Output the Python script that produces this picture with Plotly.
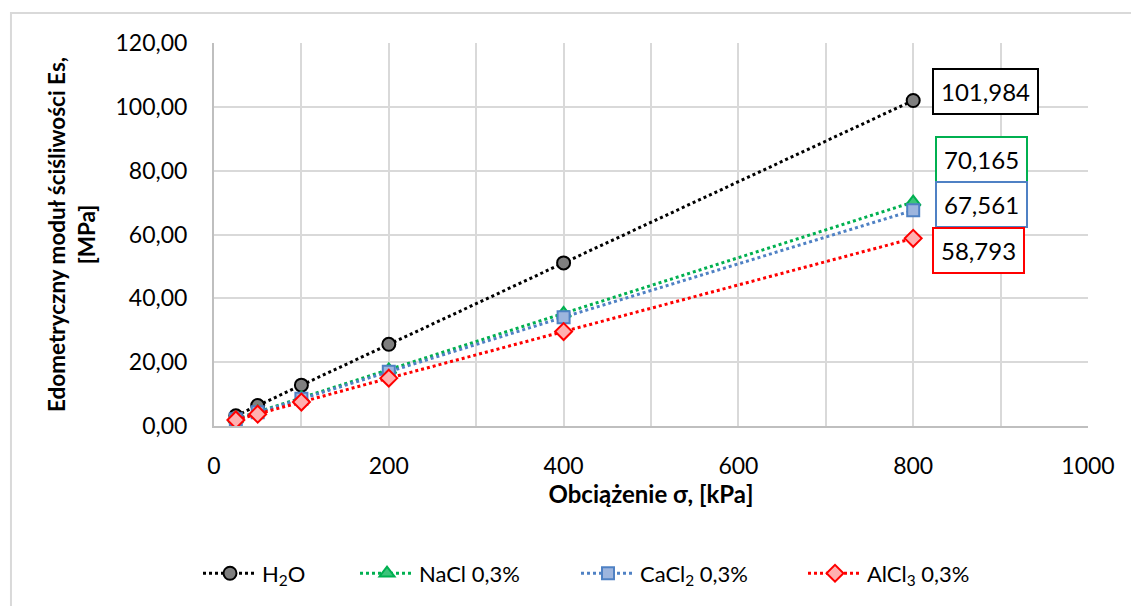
import plotly.graph_objects as go

# Load steps [kPa]
load_kpa = [25, 50, 100, 200, 400, 800]

# Oedometric modulus Es [MPa] for each pore fluid
es_h2o = [3.2, 6.4, 12.8, 25.6, 51.1, 101.984]
es_nacl = [2.2, 4.4, 8.8, 17.6, 35.3, 70.165]
es_cacl2 = [2.1, 4.3, 8.5, 17.0, 34.1, 67.561]
es_alcl3 = [1.9, 3.7, 7.5, 15.0, 29.6, 58.793]

series_names = ["H<sub>2</sub>O", "NaCl 0,3%", "CaCl<sub>2</sub> 0,3%", "AlCl<sub>3</sub> 0,3%"]

x_ticks = [0, 200, 400, 600, 800, 1000]
y_ticks = [0, 20, 40, 60, 80, 100, 120]

FONT = "Lato"

styles = [
    dict(color="#000000", symbol="circle", fill="#7f7f7f", size=13, lw=88),
    dict(color="#00b050", symbol="triangle-up", fill="#3cc47a", size=13, lw=152),
    dict(color="#4f81c4", symbol="square", fill="#9db5de", size=12, lw=158),
    dict(color="#ff0000", symbol="diamond", fill="#ffb0b0", size=13, lw=112),
]

fig = go.Figure()
all_values = [es_h2o, es_nacl, es_cacl2, es_alcl3]
for name, vals, st in zip(series_names, all_values, styles):
    fig.add_trace(go.Scatter(
        x=load_kpa, y=vals, name=name, mode="lines+markers",
        line=dict(color=st["color"], width=3, dash="dot"),
        marker=dict(symbol=st["symbol"], size=st["size"], color=st["fill"],
                    line=dict(color=st["color"], width=2)),
        legendwidth=st["lw"],
    ))

# Value boxes next to the last point of each series
shifts = [(72, 9), (68, 43), (68, 6), (65, -12)]
for vals, st, (dx, dy) in zip(all_values, styles, shifts):
    v = vals[-1]
    fig.add_annotation(
        x=load_kpa[-1], y=v, xref="x", yref="y",
        text=f"{v:.3f}".replace(".", ","), showarrow=False,
        xshift=dx, yshift=dy,
        font=dict(family=FONT, size=24, color="#000000"),
        bgcolor="white", bordercolor=st["color"], borderwidth=2, borderpad=7,
    )

# Outer chart frame
fig.add_shape(type="rect", xref="paper", yref="paper",
              x0=-0.2323, y0=-0.6, x1=1.1, y1=1.0783,
              line=dict(color="#d9d9d9", width=2), layer="below")

fig.update_layout(
    width=1131, height=606,
    margin=dict(l=214, r=43, t=43, b=180),
    paper_bgcolor="white", plot_bgcolor="white",
    separators=", ",
    font=dict(family=FONT, size=23, color="#000000"),
    showlegend=True,
    legend=dict(orientation="h", x=-0.0183, xanchor="left", y=-0.385, yanchor="middle",
                font=dict(family=FONT, size=22), itemwidth=54,
                tracegroupgap=0, entrywidthmode="pixels"),
    xaxis=dict(
        range=[0, 1000], tickvals=x_ticks, ticktext=[str(t) for t in x_ticks],
        showgrid=True, gridcolor="#d9d9d9", gridwidth=2,
        minor=dict(dtick=100, showgrid=True, gridcolor="#d9d9d9", gridwidth=2),
        showline=True, linecolor="#bfbfbf", linewidth=2, mirror=False,
        zeroline=False, ticks="", ticklabelstandoff=18,
        title=dict(text="<b>Obciążenie σ, [kPa]</b>", font=dict(family=FONT, size=24), standoff=2),
    ),
    yaxis=dict(
        range=[0, 120], tickvals=y_ticks, tickformat=".2f",
        showgrid=True, gridcolor="#d9d9d9", gridwidth=2,
        showline=True, linecolor="#bfbfbf", linewidth=2,
        zeroline=False, ticks="", ticklabelstandoff=20,
        title=dict(text="<b>Edometryczny moduł ściśliwości Es,<br>[MPa]</b>",
                   font=dict(family=FONT, size=22.5), standoff=14),
    ),
)

fig.write_html("out.html")
